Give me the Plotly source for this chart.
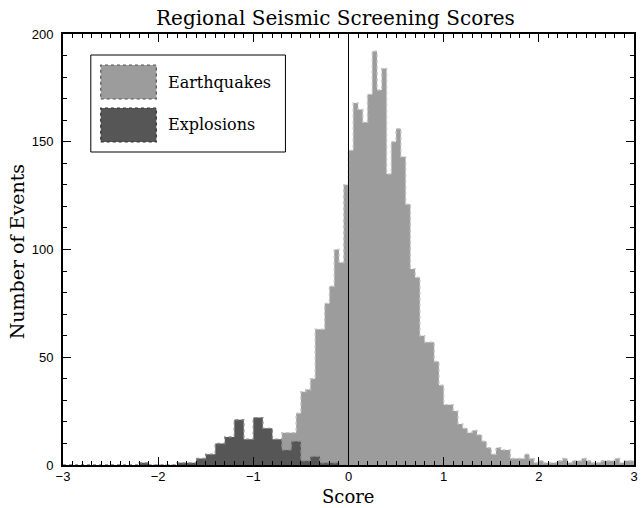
import plotly.graph_objects as go

# ---------------------------------------------------------------------------
# Histogram data
# ---------------------------------------------------------------------------
# Earthquakes: 0.05-wide bins starting at -3.00
eq_start = -3.0
eq_width = 0.05
eq_counts = (
    [0] * 30 +                                   # -3.00 .. -1.55
    [0, 0, 1, 0, 1, 1, 2, 1, 2, 3,               # -1.50 .. -1.05
     3, 4, 5, 6, 8, 10, 15, 15, 15, 24,          # -1.00 .. -0.55
     34, 35, 40, 63, 63, 75, 83, 100, 94, 130,   # -0.50 .. -0.05
     146, 168, 165, 159, 172, 192, 174, 184, 135, 150,   # 0.00 .. 0.45
     156, 143, 121, 91, 87, 60, 57, 57, 48, 37,  # 0.50 .. 0.95
     28, 28, 25, 19, 17, 15, 16, 14, 11, 8,      # 1.00 .. 1.45
     5, 8, 7, 7, 3, 3, 3, 5, 3, 1,               # 1.50 .. 1.95
     2, 1, 1, 1, 2, 3, 1, 2, 2, 3,               # 2.00 .. 2.45
     2, 1, 1, 2, 2, 2, 3, 1, 2, 2]               # 2.50 .. 2.95
)

# Explosions: 0.1-wide bins starting at -3.0
ex_start = -3.0
ex_width = 0.1
ex_counts = [
    0, 0, 0, 0, 0, 0, 0, 0,      # -3.0 .. -2.3
    1, 0, 0, 0,                  # -2.2 .. -1.9
    1, 1, 3, 5, 10, 13, 21, 12,  # -1.8 .. -1.1
    22, 17, 12, 7, 11, 2, 4, 1,  # -1.0 .. -0.3
    1, 0,                        # -0.2 .. -0.1
]

x_ticks = [-3, -2, -1, 0, 1, 2, 3]
y_ticks = [0, 50, 100, 150, 200]

series_names = ["Earthquakes", "Explosions"]
eq_fill, eq_edge = "#9c9c9c", "#c4c4c4"
ex_fill, ex_edge = "#565656", "#8a8a8a"


def step_xy(start, width, counts):
    """Closed step outline for a histogram (hv line shape)."""
    edges = [round(start + i * width, 6) for i in range(len(counts) + 1)]
    xs = [edges[0]] + edges + [edges[-1]]
    ys = [0] + list(counts) + [counts[-1], 0]
    return xs, ys


fig = go.Figure()

for (start, width, counts, name, fill, edge) in [
    (eq_start, eq_width, eq_counts, series_names[0], eq_fill, eq_edge),
    (ex_start, ex_width, ex_counts, series_names[1], ex_fill, ex_edge),
]:
    xs, ys = step_xy(start, width, counts)
    fig.add_trace(go.Scatter(
        x=xs, y=ys, name=name, mode="lines",
        line=dict(shape="hv", color=edge, width=1.4, dash="dot"),
        fill="tozeroy", fillcolor=fill, showlegend=False,
        hoverinfo="skip",
    ))

# Frame geometry (pixels inside the 642 x 508 page)
W, H = 642, 508
L, R, T, B = 63, 638, 34, 465


def px(xp):
    return (xp - L) / (R - L)


def py(yp):
    return (B - yp) / (B - T)


serif = "DejaVu Serif"
sans = "Liberation Sans"

shapes = [
    # vertical reference line at score 0
    dict(type="line", xref="x", yref="y domain", x0=0, x1=0, y0=0, y1=1,
         line=dict(color="black", width=1), layer="above"),
    # legend box
    dict(type="rect", xref="paper", yref="paper",
         x0=px(91), x1=px(287), y0=py(152), y1=py(55),
         line=dict(color="black", width=1), fillcolor="white", layer="above"),
    # legend swatches
    dict(type="rect", xref="paper", yref="paper",
         x0=px(101), x1=px(157), y0=py(99), y1=py(65),
         line=dict(color="#555555", width=1.2, dash="dot"),
         fillcolor=eq_fill, layer="above"),
    dict(type="rect", xref="paper", yref="paper",
         x0=px(101), x1=px(157), y0=py(142), y1=py(108),
         line=dict(color="#333333", width=1.2, dash="dot"),
         fillcolor=ex_fill, layer="above"),
]

annotations = [
    dict(text="Regional Seismic Screening Scores", xref="paper", yref="paper",
         x=px(337), y=py(18), showarrow=False, xanchor="center",
         yanchor="middle", font=dict(family=serif, size=20, color="black")),
    dict(text="Score", xref="paper", yref="paper", x=px(350), y=py(496),
         showarrow=False, xanchor="center", yanchor="middle",
         font=dict(family=serif, size=18, color="black")),
    dict(text="Number of Events", xref="paper", yref="paper", x=px(17),
         y=py(252), showarrow=False, textangle=-90, xanchor="center",
         yanchor="middle", font=dict(family=serif, size=19, color="black")),
    dict(text=series_names[0], xref="paper", yref="paper", x=px(167),
         y=py(82), showarrow=False, xanchor="left", yanchor="middle",
         font=dict(family=serif, size=16, color="black")),
    dict(text=series_names[1], xref="paper", yref="paper", x=px(167),
         y=py(125), showarrow=False, xanchor="left", yanchor="middle",
         font=dict(family=serif, size=16, color="black")),
]

axis_common = dict(
    showgrid=False, zeroline=False, showline=True, linecolor="black",
    linewidth=2, mirror="ticks", ticks="inside", tickcolor="black",
    tickwidth=1, ticklen=8, tickfont=dict(family=sans, size=13, color="black"),
)

fig.update_layout(
    width=W, height=H,
    margin=dict(l=L, r=W - R, t=T, b=H - B, pad=0),
    paper_bgcolor="white", plot_bgcolor="white",
    showlegend=False,
    xaxis=dict(range=[-3, 3], tickvals=x_ticks, **axis_common,
               ticklabelstandoff=-2,
               minor=dict(dtick=0.1, ticklen=4, ticks="inside",
                          tickcolor="black", tickwidth=1)),
    yaxis=dict(range=[0, 200], tickvals=y_ticks, **axis_common,
               ticklabelstandoff=5,
               minor=dict(dtick=10, ticklen=4, ticks="inside",
                          tickcolor="black", tickwidth=1)),
    shapes=shapes,
    annotations=annotations,
)

fig.write_html("out.html")
